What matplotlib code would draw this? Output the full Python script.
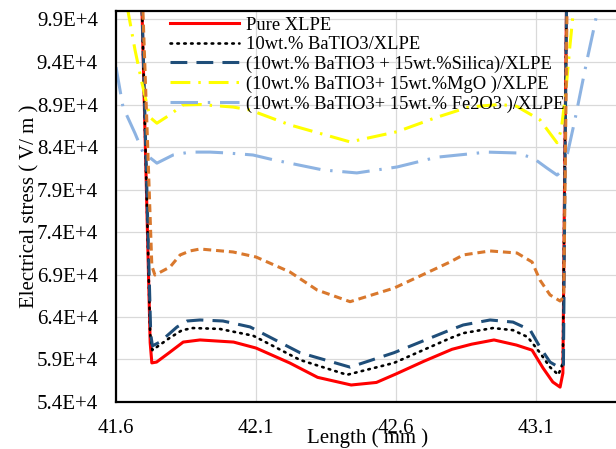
import matplotlib
matplotlib.use("Agg")
import matplotlib.pyplot as plt
from matplotlib.ticker import FuncFormatter

plt.rcParams['font.family'] = ['Liberation Serif', 'DejaVu Serif']

# Pure XLPE
x_pure = [41.690, 41.722, 41.728, 41.745, 41.790, 41.840, 41.900, 42.020, 42.100, 42.220,
          42.320, 42.440, 42.530, 42.600, 42.700, 42.800, 42.870, 42.950, 43.030, 43.086,
          43.125, 43.160, 43.186, 43.196, 43.202, 43.210]
y_pure = [104000, 61000, 58600, 58700, 59800, 61050, 61300, 61050, 60350, 58600,
          56900, 56000, 56300, 57300, 58800, 60200, 60800, 61300, 60700, 60100,
          58000, 56350, 55750, 57400, 80000, 104000]

# 10wt.% BaTIO3/XLPE
x_bt = [41.690, 41.722, 41.730, 41.790, 41.836, 41.875, 41.970, 42.090, 42.257, 42.425,
        42.593, 42.793, 42.840, 42.946, 43.018, 43.070, 43.114, 43.150, 43.180, 43.196,
        43.202, 43.210]
y_bt = [104000, 62000, 60100, 61500, 62450, 62700, 62600, 61800, 58950, 57200,
        58600, 61500, 62100, 62700, 62450, 61650, 59800, 58100, 57200, 58600,
        80000, 104000]

# (10wt.% BaTIO3 + 15wt.%Silica)/XLPE
x_si = [41.690, 41.724, 41.730, 41.757, 41.818, 41.854, 41.900, 41.982, 42.079, 42.257,
        42.436, 42.593, 42.793, 42.840, 42.936, 43.018, 43.079, 43.114, 43.150, 43.186,
        43.198, 43.203, 43.210]
y_si = [104000, 62000, 60600, 61060, 62830, 63530, 63650, 63530, 62830, 59800,
        58100, 59800, 62470, 63060, 63650, 63400, 62470, 60470, 58700, 58000,
        58400, 80000, 104000]

# (10wt.% BaTIO3+ 15wt.%MgO )/XLPE
x_mgo = [41.640, 41.668, 41.693, 41.721, 41.746, 41.793, 41.839, 41.900, 42.018, 42.079,
         42.221, 42.436, 42.604, 42.746, 42.860, 42.970, 43.030, 43.114, 43.150, 43.175,
         43.190, 43.205, 43.220, 43.235]
y_mgo = [100500, 95400, 91500, 87500, 86800, 87800, 88950, 89000, 88700, 88350,
         86600, 84600, 85800, 87500, 88700, 89000, 88800, 87200, 85600, 84500,
         86000, 90000, 95500, 100500]

# (10wt.% BaTIO3+ 15wt.% Fe2O3 )/XLPE
x_fe = [41.600, 41.625, 41.668, 41.696, 41.746, 41.804, 41.864, 41.936, 41.996, 42.089,
        42.161, 42.339, 42.460, 42.604, 42.746, 42.925, 43.030, 43.090, 43.140, 43.175,
        43.200, 43.221, 43.239, 43.282, 43.311, 43.320]
y_fe = [93400, 88700, 85600, 83400, 82100, 83060, 83400, 83400, 83300, 83060,
        82500, 81300, 80950, 81650, 82800, 83400, 83300, 82700, 81500, 80700,
        81400, 84500, 87200, 94200, 98600, 100200]

# unlabelled orange series
x_or = [41.692, 41.728, 41.739, 41.793, 41.829, 41.864, 41.900, 42.018, 42.100, 42.221,
        42.318, 42.436, 42.593, 42.793, 42.840, 42.936, 43.032, 43.086, 43.114, 43.150,
        43.186, 43.199, 43.204, 43.212]
y_or = [104000, 70000, 68940, 69880, 71300, 71770, 72000, 71650, 71060, 69300,
        67180, 65800, 67400, 70470, 71300, 71770, 71530, 70470, 68350, 66600,
        65880, 66350, 80000, 104000]

x_ticks = [41.6, 42.1, 42.6, 43.1]
y_ticks = [54000, 59000, 64000, 69000, 74000, 79000, 84000, 89000, 94000, 99000]

fig = plt.figure(figsize=(6.16, 4.49), dpi=100)
ax = fig.add_axes([116/616, 47/449, 504/616, 391/449])

ax.plot(x_pure, y_pure, color='#FF0000', lw=2.2, label='Pure XLPE')
ax.plot(x_bt, y_bt, color='black', lw=1.9, ls=(0, (0.6, 2.0)),
        dash_capstyle='round', label='10wt.% BaTIO3/XLPE')
ax.plot(x_si, y_si, color='#1F4E79', lw=2.2, ls=(0, (5.5, 3)),
        label='(10wt.% BaTIO3 + 15wt.%Silica)/XLPE')
ax.plot(x_mgo, y_mgo, color='#FFFF00', lw=2.2, ls=(0, (6.5, 2.6, 0.8, 2.6)),
        label='(10wt.% BaTIO3+ 15wt.%MgO )/XLPE')
ax.plot(x_fe, y_fe, color='#8DB3E2', lw=2.2, ls=(0, (9, 3.2, 0.8, 3.2)),
        label='(10wt.% BaTIO3+ 15wt.% Fe2O3 )/XLPE')
ax.plot(x_or, y_or, color='#D9782D', lw=2.2, ls=(0, (2.6, 1.6)), label='_nolegend_')

ax.set_xlim(41.6, 43.4)
ax.set_ylim(54000, 100000)
ax.set_xticks(x_ticks)
ax.set_yticks(y_ticks)
ax.xaxis.set_major_formatter(FuncFormatter(lambda v, p: f"{v:.1f}"))
ax.yaxis.set_major_formatter(FuncFormatter(lambda v, p: f"{v/1e4:.1f}E+4"))
ax.tick_params(axis='both', length=0, labelsize=15)
ax.tick_params(axis='x', pad=12)
ax.tick_params(axis='y', pad=13)
ax.grid(True, color='#D9D9D9', lw=0.9)
ax.set_axisbelow(True)
for s in ax.spines.values():
    s.set_color('black')
    s.set_linewidth(1.6)

ax.set_xlabel('Length ( mm )', fontsize=15)
ax.set_ylabel('Electrical stress ( V/ m )', fontsize=15)
ax.xaxis.set_label_coords(0.5, -0.066)
ax.yaxis.set_label_coords(-0.151, 0.5)

fig.legend(loc='upper left', bbox_to_anchor=(170/616, 1 - 16.5/449), frameon=False,
           fontsize=13.3, handlelength=3.76, handletextpad=0.38, labelspacing=0.14,
           borderpad=0, borderaxespad=0)

fig.savefig('out.png', dpi=100)
